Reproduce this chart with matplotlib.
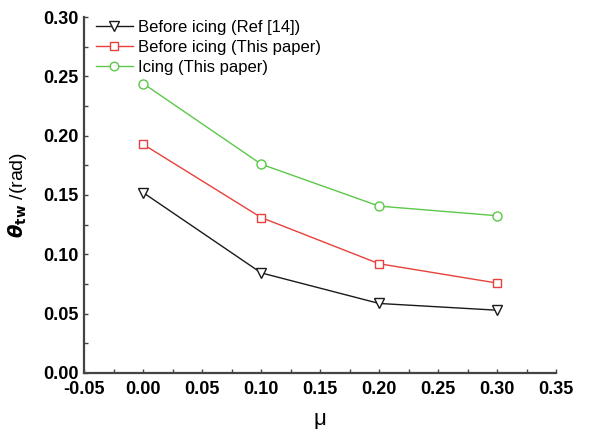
import matplotlib
matplotlib.use("Agg")
import matplotlib.pyplot as plt
from matplotlib.ticker import MultipleLocator

mu = [0.0, 0.1, 0.2, 0.3]
before_ref = [0.152, 0.0843, 0.0585, 0.0528]
before_this = [0.1927, 0.131, 0.092, 0.0757]
icing_this = [0.244, 0.176, 0.1406, 0.1325]
labels = ["Before icing (Ref [14])", "Before icing (This paper)", "Icing (This paper)"]
xticks = [-0.05, 0.00, 0.05, 0.10, 0.15, 0.20, 0.25, 0.30, 0.35]
yticks = [0.00, 0.05, 0.10, 0.15, 0.20, 0.25, 0.30]

plt.rcParams['font.family'] = ['Liberation Sans', 'DejaVu Sans']
fig = plt.figure(figsize=(5.89, 4.29), dpi=100)
ax = fig.add_axes([0.143, 0.131, 0.801, 0.829])

ax.plot(mu, before_ref, color='#1a1a1a', lw=1.0, marker='v', ms=7, mfc='white',
        mec='#1a1a1a', mew=1.0, label=labels[0])
ax.plot(mu, before_this, color='#e8403a', lw=1.0, marker='s', ms=5.5, mfc='white',
        mec='#e8403a', mew=1.0, label=labels[1])
ax.plot(mu, icing_this, color='#5cc84a', lw=1.0, marker='o', ms=6.5, mfc='white',
        mec='#5cc84a', mew=1.0, label=labels[2])

ax.set_xlim(-0.05, 0.35)
ax.set_ylim(0.0, 0.30)
ax.set_xticks(xticks)
ax.set_yticks(yticks)
ax.set_xticklabels([f"{v:.2f}" for v in xticks], fontweight='bold', fontsize=13)
ax.set_yticklabels([f"{v:.2f}" for v in yticks], fontweight='bold', fontsize=13)
ax.xaxis.set_minor_locator(MultipleLocator(0.025))
ax.yaxis.set_minor_locator(MultipleLocator(0.025))
ax.tick_params(which='both', direction='in', length=3, width=1.0, color='#444444')
ax.tick_params(axis='x', pad=6)
ax.tick_params(axis='y', pad=4)
for s in ['top', 'right']:
    ax.spines[s].set_visible(False)
for s in ['left', 'bottom']:
    ax.spines[s].set_linewidth(1.6)
    ax.spines[s].set_color('#444444')

ax.set_xlabel("μ", fontsize=16, labelpad=8)
ax.set_ylabel(r"$\boldsymbol{\theta}_{\mathbf{tw}}$ /(rad)", fontsize=14, labelpad=10)

leg = ax.legend(loc='upper left', bbox_to_anchor=(0.0, 1.025), frameon=False, fontsize=12,
                handlelength=2.2, handletextpad=0.3, labelspacing=0.3, borderaxespad=0.3,
                markerscale=0.95)

fig.savefig("out.png", dpi=100)
